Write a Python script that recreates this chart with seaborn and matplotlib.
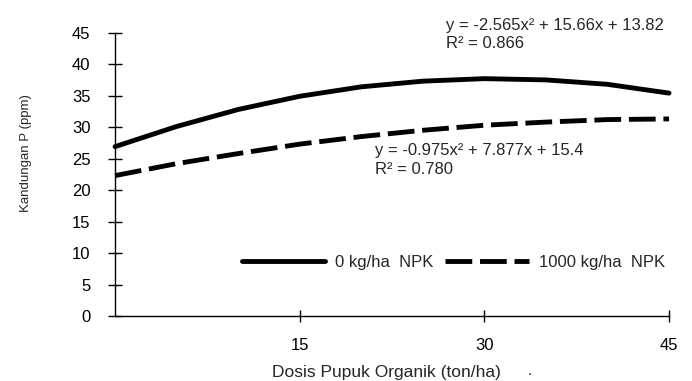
import pandas as pd
import matplotlib.pyplot as plt
import seaborn as sns

# Values (P content, ppm)
dosis = [0, 5, 10, 15, 20, 25, 30, 35, 40, 45]
p_0npk = [26.9, 30.1, 32.8, 34.9, 36.4, 37.3, 37.7, 37.5, 36.8, 35.4]
p_1000npk = [22.3, 24.2, 25.8, 27.3, 28.5, 29.5, 30.3, 30.8, 31.2, 31.3]

labels = ['0 kg/ha  NPK', '1000 kg/ha  NPK']
eq_0 = ['y = -2.565x² + 15.66x + 13.82', 'R² = 0.866']
eq_1000 = ['y = -0.975x² + 7.877x + 15.4', 'R² = 0.780']

df = pd.DataFrame({'dosis': dosis, 'p0': p_0npk, 'p1000': p_1000npk})

sns.set_style('ticks')
plt.rcParams['font.family'] = ['Liberation Sans', 'DejaVu Sans']

fig = plt.figure(figsize=(6.92, 3.81), dpi=100)
ax = fig.add_axes([0.1662, 0.1706, 0.8006, 0.7436])

sns.lineplot(data=df, x='dosis', y='p0', ax=ax, color='black', linewidth=3.5,
             label=labels[0], clip_on=False)
sns.lineplot(data=df, x='dosis', y='p1000', ax=ax, color='black', linewidth=3.5,
             linestyle=(0, (5.5, 1.6)), label=labels[1], clip_on=False)

ax.set_xlim(0, 45)
ax.set_ylim(0, 45)
ax.set_xticks([15, 30, 45])
ax.set_yticks(range(0, 46, 5))

for side in ['top', 'right']:
    ax.spines[side].set_visible(False)
for side in ['left', 'bottom']:
    ax.spines[side].set_color('black')
    ax.spines[side].set_linewidth(1)

ax.tick_params(axis='y', left=True, direction='inout', length=10.5, width=1,
               pad=12.5, labelsize=12, colors='black')
ax.tick_params(axis='x', bottom=True, direction='inout', length=8, width=1,
               pad=12, labelsize=12, colors='black')

ax.set_xlabel('Dosis Pupuk Organik (ton/ha)', fontsize=12.5)
ax.xaxis.set_label_coords(0.49, -0.173)
ax.set_ylabel('Kandungan P (ppm)', fontsize=9.5)
ax.yaxis.set_label_coords(-0.15, 0.575)
ax.text(0.749, -0.195, '.', transform=ax.transAxes, fontsize=11,
        ha='center', va='center')

# trendline equations
ax.text(26.9, 46.2, eq_0[0], fontsize=12, va='center', ha='left', clip_on=False)
ax.text(26.9, 43.3, eq_0[1], fontsize=12, va='center', ha='left', clip_on=False)
ax.text(21.1, 26.3, eq_1000[0], fontsize=12, va='center', ha='left')
ax.text(21.1, 23.2, eq_1000[1], fontsize=12, va='center', ha='left')

ax.legend(loc='center left', bbox_to_anchor=(0.229, 0.19), ncol=2,
          frameon=False, borderpad=0, borderaxespad=0, handlelength=5,
          handletextpad=0.6, columnspacing=0.7, fontsize=12)

fig.savefig('out.png', dpi=100)
